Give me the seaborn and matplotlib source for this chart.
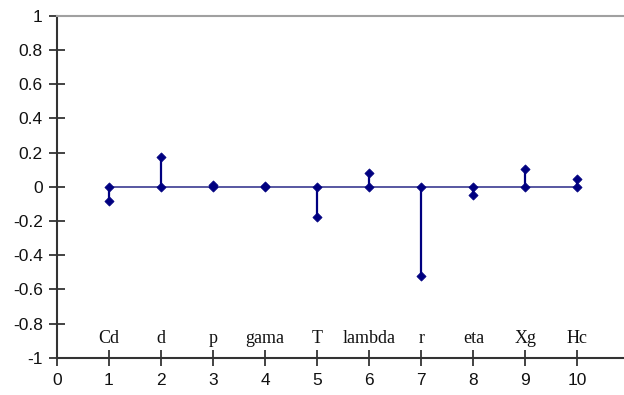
import matplotlib
matplotlib.use("Agg")
import matplotlib.pyplot as plt
import seaborn as sns
import pandas as pd

# Sensitivity of each parameter
params = ["Cd", "d", "p", "gama", "T", "lambda", "r", "eta", "Xg", "Hc"]
positions = [1, 2, 3, 4, 5, 6, 7, 8, 9, 10]
sensitivity = [-0.082, 0.174, 0.012, 0.006, -0.175, 0.080, -0.520, -0.050, 0.105, 0.045]
baseline = [0, 0, 0, 0, 0, 0, 0, 0, 0, 0]

x_ticks = [0, 1, 2, 3, 4, 5, 6, 7, 8, 9, 10]
y_ticks = [-1, -0.8, -0.6, -0.4, -0.2, 0, 0.2, 0.4, 0.6, 0.8, 1]
y_tick_labels = ["-1", "-0.8", "-0.6", "-0.4", "-0.2", "0", "0.2", "0.4", "0.6", "0.8", "1"]

df = pd.DataFrame({"pos": positions, "value": sensitivity, "base": baseline, "param": params})

sns.set_theme(style="white")
plt.rcParams["font.family"] = ["Liberation Sans", "DejaVu Sans"]

fig = plt.figure(figsize=(6.24, 3.95), dpi=100)
ax = fig.add_axes([0.0909, 0.0944, 0.918, 0.8658])

navy = "#000080"

# baseline connecting the zero points
sns.lineplot(data=df, x="pos", y="base", ax=ax, color="#4a4a9a", lw=1.3, zorder=2)
# stems
ax.vlines(df["pos"], df["base"], df["value"], color=navy, lw=1.6, zorder=3)
# markers at zero and at each value
sns.scatterplot(data=df, x="pos", y="base", ax=ax, marker="D", s=22, color=navy,
                edgecolor=navy, linewidth=0.5, zorder=4)
sns.scatterplot(data=df, x="pos", y="value", ax=ax, marker="D", s=22, color=navy,
                edgecolor=navy, linewidth=0.5, zorder=4)

# parameter names along the bottom
for xp, name in zip(df["pos"], df["param"]):
    ax.text(xp, -0.89, name, ha="center", va="center", fontsize=13,
            family=["Liberation Serif", "DejaVu Serif"], color="#111111")

ax.set_xlim(0, 11)
ax.set_ylim(-1, 1)
ax.set_xticks(x_ticks)
ax.set_xticklabels([str(t) for t in x_ticks])
ax.set_yticks(y_ticks)
ax.set_yticklabels(y_tick_labels)
ax.set_xlabel("")
ax.set_ylabel("")

ax.tick_params(axis="both", direction="inout", length=12, width=1.2, color="#222222",
               labelsize=12.5, labelcolor="#111111", bottom=True, left=True)
ax.tick_params(axis="x", pad=5)
ax.tick_params(axis="y", pad=4)

for side in ["left", "bottom"]:
    ax.spines[side].set_color("#333333")
    ax.spines[side].set_linewidth(1.5)
ax.spines["top"].set_color("#a0a0a0")
ax.spines["top"].set_linewidth(1.5)
ax.spines["right"].set_visible(False)

fig.savefig("out.png", dpi=100)
